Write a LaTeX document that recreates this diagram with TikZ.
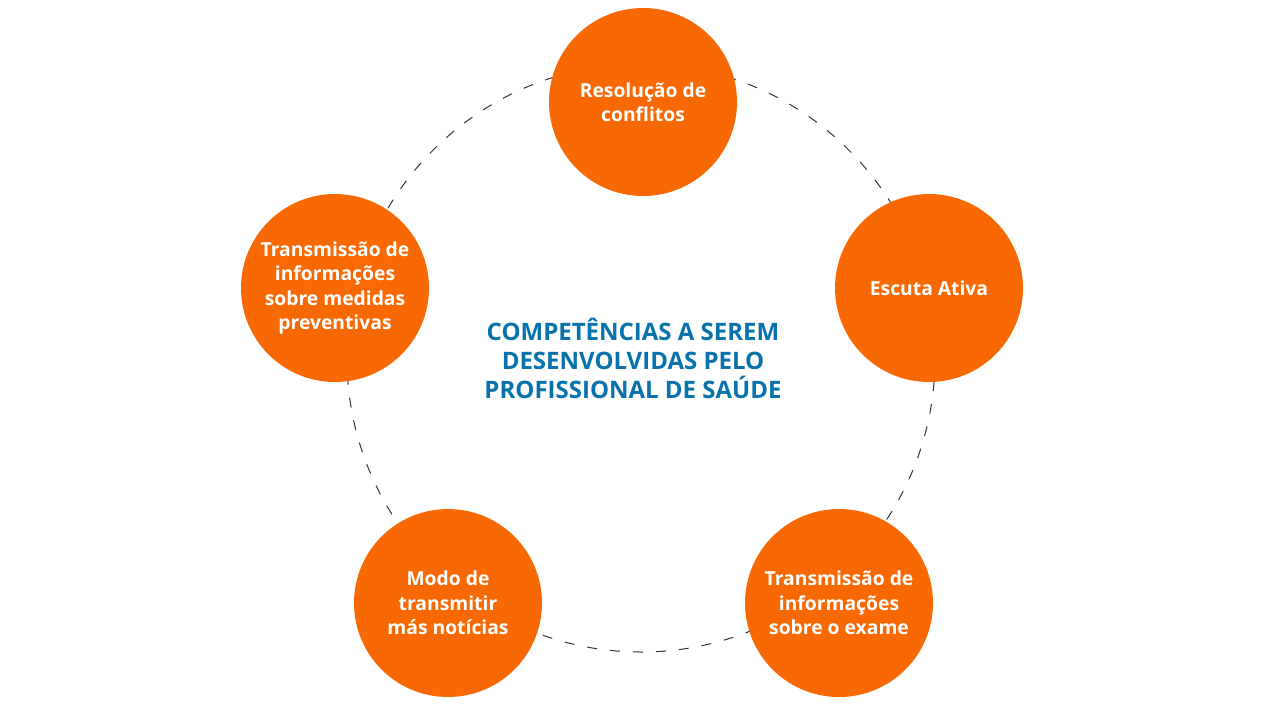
\documentclass[tikz,border=0pt]{standalone}
\usepackage{fontspec}
\setmainfont{Open Sans}
\definecolor{orng}{HTML}{F96903}
\definecolor{ttl}{HTML}{0772AC}
\definecolor{dsh}{HTML}{2E3440}
\begin{document}
\begin{tikzpicture}[x=1pt,y=-1pt,
  comp/.style={circle,fill=orng,minimum size=188pt,inner sep=0pt,text=white,
    align=center,font=\bfseries\fontsize{19.3}{24.3}\selectfont},
  ttlstyle/.style={text=ttl,align=center,font=\bfseries\fontsize{24}{29}\selectfont}]
\useasboundingbox (0,0) rectangle (1281,720);
\fill[white] (0,0) rectangle (1281,720);
\coordinate (ctr) at (641,358);
\draw[dsh,line width=1pt,dash pattern=on 10pt off 13pt] (ctr) circle[radius=294];
\node[comp] (top) at (643,102) {Resolução de\\conflitos};
\node[comp] (right) at (929,288) {Escuta Ativa};
\node[comp] (br) at (839,603) {Transmissão de\\informações\\sobre o exame};
\node[comp] (bl) at (448,603) {Modo de\\transmitir\\más notícias};
\node[comp] (left) at (335,288) {Transmissão de\\informações\\sobre medidas\\preventivas};
\node[ttlstyle] (title) at (633,358) {COMPETÊNCIAS A SEREM\\DESENVOLVIDAS PELO\\PROFISSIONAL DE SAÚDE};
\end{tikzpicture}
\end{document}
